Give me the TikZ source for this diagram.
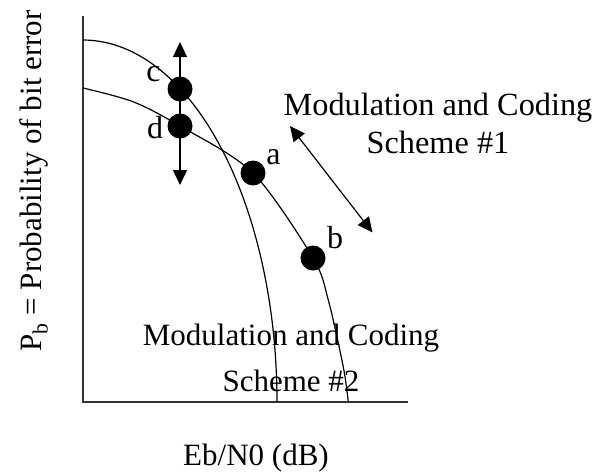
\documentclass[tikz,border=0pt]{standalone}
\usepackage{fontspec}
\setmainfont{Liberation Serif}
\usetikzlibrary{positioning,arrows.meta}

\begin{document}
\begin{tikzpicture}[
    x=1pt, y=-1pt,
    dot/.style={circle, fill=black, inner sep=0pt, minimum size=25pt},
    lbl/.style={inner sep=0pt, font=\fontsize{32}{36}\selectfont},
    curve/.style={line width=1.2pt},
    axis/.style={line width=1.5pt, color=black!80},
    dblarrow/.style={{Triangle[width=14pt,length=15pt]}-{Triangle[width=14pt,length=15pt]}, line width=1.2pt}
]
\useasboundingbox (0,0) rectangle (594,472);

% Axes
\coordinate (ytop) at (83,16);
\coordinate (orig) at (83,402);
\coordinate (xend) at (408,402);
\draw[axis] (ytop) -- (orig) -- (xend);

% Where the points sit
\coordinate (pc) at (180,89);
\coordinate (pd) at (180,126);
\coordinate (pa) at (253,173);
\coordinate (pb) at (313,258);

% Curve of scheme #2 (steep one)
\draw[curve] plot[domain=0:90, samples=60] ({83+194*sin(\x)},{402-362*cos(\x)});

% Curve of scheme #1 (through d, a and b)
\coordinate (s1) at (83,88);
\coordinate (s1m) at (133,101.7);
\coordinate (s1n) at (328.3,300);
\coordinate (s1o) at (343.3,367);
\coordinate (s1e) at (348.3,402);
\draw[curve] plot[smooth] coordinates {(s1) (s1m) (pd) (pa) (pb) (s1n) (s1o) (s1e)};

% Arrows
\coordinate (cdtop) at (180,42);
\coordinate (cdbot) at (180,185);
\draw[dblarrow] (cdtop) -- (cdbot);
\coordinate (mtop) at (290,126);
\coordinate (mbot) at (372.5,232.5);
\draw[dblarrow] (mtop) -- (mbot);

% Points on the curves
\node[dot] (c) at (pc) {};
\node[dot] (d) at (pd) {};
\node[dot] (a) at (pa) {};
\node[dot] (b) at (pb) {};

% Point labels
\node[lbl] (lc) at (153.5,74) {c};
\node[lbl] (ld) at (155,128) {d};
\node[lbl] (la) at (273.5,157) {a};
\node[lbl] (lb) at (335,238) {b};

% Scheme labels
\node[align=center, inner sep=0pt, font=\fontsize{32.3}{38}\selectfont] (sch1) at (438,123) {Modulation and Coding\\Scheme \#1};
\node[align=center, inner sep=0pt, font=\fontsize{31}{46}\selectfont] (sch2) at (291,358) {Modulation and Coding\\Scheme \#2};

% Axis labels
\node[anchor=base, inner sep=0pt, font=\fontsize{31}{36}\selectfont] (xlab) at (256,465) {Eb/N0 (dB)};
\node[rotate=90, inner sep=0pt, font=\fontsize{31}{36}\selectfont] (ylab) at (33.5,181) {P\textsubscript{b} = Probability of bit error};

\end{tikzpicture}
\end{document}
